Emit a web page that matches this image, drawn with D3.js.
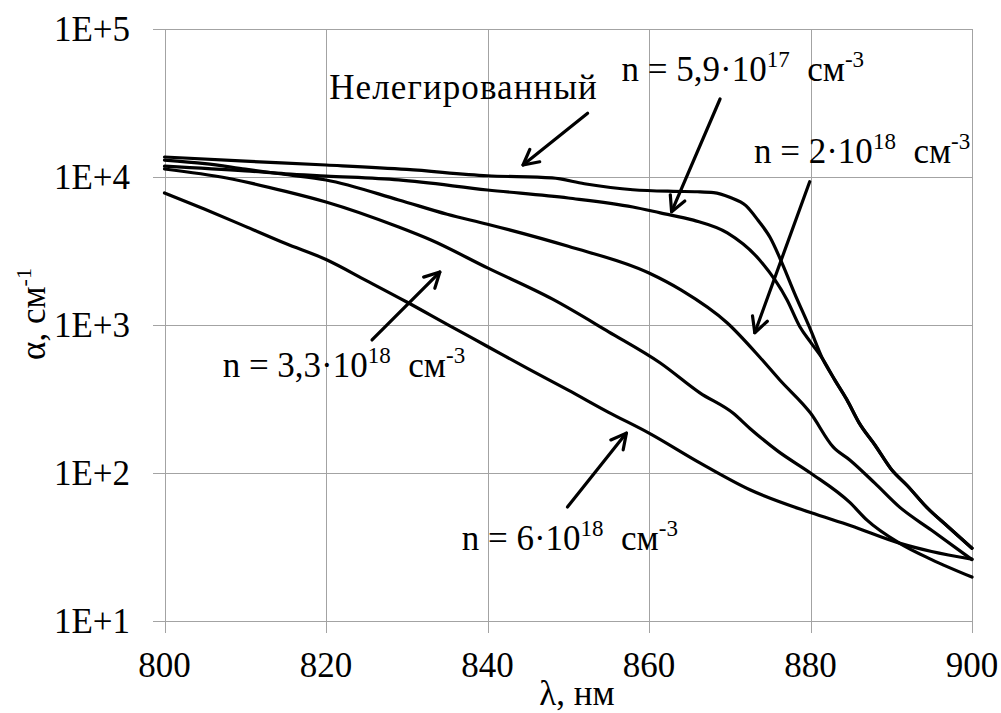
<!DOCTYPE html>
<html>
<head>
<meta charset="utf-8">
<script src="https://cdn.jsdelivr.net/npm/d3@7"></script>
<style>
  html, body { margin: 0; padding: 0; background: #fff; }
  svg { display: block; }
</style>
</head>
<body>
<svg id="chart" width="1001" height="713"></svg>
<script>
// Absorption spectra of GaAs samples: wavelength (nm) vs absorption coefficient (cm^-1)
const lambdaUndoped = [800, 810, 820, 830, 840, 848, 852, 858, 863, 866, 868, 870, 872, 873.5, 875, 876.5, 878, 880, 881.5, 883, 884.5, 886, 888, 890, 892, 894.4, 897, 900];
const alphaUndoped  = [13650, 12800, 12050, 11250, 10200, 9850, 9000, 8200, 8000, 7950, 7850, 7300, 6400, 5100, 3900, 2600, 1650, 930, 590, 426, 313, 219, 154, 106, 82, 58.5, 43.5, 31];

const lambdaN59e17 = [800, 810, 815, 820, 829, 840, 850, 858, 861.4, 865.5, 869.7, 873.7, 877.1, 878.7, 880, 881.5, 883, 884.5, 886, 888, 890, 892, 894.4, 897, 900];
const alphaN59e17  = [11850, 11000, 10500, 10150, 9550, 8170, 7210, 6270, 5720, 5110, 4190, 2750, 1476, 969, 766, 590, 426, 313, 219, 154, 106, 82, 58.5, 43.5, 31];

const lambdaN2e18 = [800, 805, 810, 815, 820, 829, 835, 840, 850, 860, 864, 869.7, 873.7, 876.2, 880, 882.8, 884.9, 888, 891, 895, 900];
const alphaN2e18  = [13000, 12300, 11300, 10400, 9550, 7000, 5600, 4800, 3400, 2245, 1720, 1032, 608, 425, 254, 150, 122, 85, 59, 41, 26];

const lambdaN33e18 = [800, 807.7, 815, 820, 829, 833, 840, 848, 855, 861.4, 866.3, 870.4, 872.5, 876, 880, 884.9, 887, 891, 895, 900];
const alphaN33e18  = [11330, 9840, 8000, 6780, 4590, 3750, 2430, 1500, 900, 554, 348, 254, 200, 140, 100, 63, 48, 33.6, 26, 19.8];

const lambdaN6e18 = [800, 805, 810, 815, 820, 825, 830, 835, 840, 845, 850, 855, 860, 866.3, 872.5, 880, 885, 891, 895, 900];
const alphaN6e18  = [7800, 6050, 4640, 3550, 2770, 1995, 1430, 1010, 716, 507, 363, 257, 186, 117, 77, 54, 44, 33.6, 29.5, 26.2];

const xTicks = [800, 820, 840, 860, 880, 900];
const yTicks = [1e1, 1e2, 1e3, 1e4, 1e5];
const yTickLabels = ["1E+1", "1E+2", "1E+3", "1E+4", "1E+5"];

// Curve labels: text pieces (false = normal, true = superscript), anchor and arrow in data units
const labelTexts = [
  [["Нелегированный", false]],
  [["n = 5,9·10", false], ["17", true], ["  см", false], ["-3", true]],
  [["n = 2·10", false], ["18", true], ["  см", false], ["-3", true]],
  [["n = 3,3·10", false], ["18", true], ["  см", false], ["-3", true]],
  [["n = 6·10", false], ["18", true], ["  см", false], ["-3", true]]
];
const labelAnchors = [[820.4, 33650], [856.6, 44560], [873.0, 12500], [807.2, 448], [836.8, 30.2]];
const arrowFrom = [[852.4, 27000], [868.8, 33650], [879.9, 9290], [825.7, 792], [849.9, 58.9]];
const arrowTo   = [[844.4, 12050], [862.8, 5830], [873.1, 887], [834.1, 2280], [857.2, 186]];

const series = [
  [lambdaUndoped, alphaUndoped],
  [lambdaN59e17, alphaN59e17],
  [lambdaN2e18, alphaN2e18],
  [lambdaN33e18, alphaN33e18],
  [lambdaN6e18, alphaN6e18]
];

const FONT = "'Liberation Serif', 'DejaVu Serif', 'Times New Roman', serif";

const svg = d3.select("#chart")
  .attr("font-family", FONT);
svg.append("rect").attr("width", 1001).attr("height", 713).attr("fill", "#fff");

const plotLeft = 164.5, plotRight = 972, plotTop = 29, plotBottom = 621, tickLen = 12;
const x = d3.scaleLinear().domain([800, 900]).range([plotLeft, plotRight]);
const y = d3.scaleLog().domain([1e1, 1e5]).range([plotBottom, plotTop]);

const gridColor = "#a3a3a3";
const grid = svg.append("g").attr("stroke", gridColor).attr("stroke-width", 1.4).attr("shape-rendering", "crispEdges");

grid.selectAll("line.h").data(yTicks).join("line").attr("class", "h")
  .attr("x1", plotLeft - tickLen).attr("x2", plotRight)
  .attr("y1", d => Math.round(y(d)) + 0.5).attr("y2", d => Math.round(y(d)) + 0.5);
grid.selectAll("line.v").data(xTicks).join("line").attr("class", "v")
  .attr("x1", d => Math.round(x(d)) + 0.5).attr("x2", d => Math.round(x(d)) + 0.5)
  .attr("y1", plotTop).attr("y2", plotBottom + tickLen);

const txt = sel => sel.attr("font-family", FONT).attr("fill", "#000").style("white-space", "pre");

// Tick labels
svg.append("g").selectAll("text").data(yTicks).join("text").call(txt)
  .attr("x", 130).attr("y", d => y(d) + 12)
  .attr("text-anchor", "end").attr("font-size", 35)
  .text((d, i) => yTickLabels[i]);

svg.append("g").selectAll("text").data(xTicks).join("text").call(txt)
  .attr("x", d => x(d)).attr("y", 677)
  .attr("text-anchor", "middle").attr("font-size", 35)
  .text(d => d);

// Axis titles
const yTitle = svg.append("text").call(txt)
  .attr("transform", "translate(45,314) rotate(-90)")
  .attr("text-anchor", "middle").attr("font-size", 35);
yTitle.append("tspan").text("α, см");
yTitle.append("tspan").attr("font-size", 22).attr("dy", -14).text("-1");

svg.append("text").call(txt).attr("x", 577).attr("y", 705)
  .attr("text-anchor", "middle").attr("font-size", 35).text("λ, нм");

// Spectra
const line = d3.line()
  .x(d => x(d[0]))
  .y(d => y(d[1]))
  .curve(d3.curveMonotoneX);

svg.append("g").selectAll("path").data(series).join("path")
  .attr("d", s => line(s[0].map((l, i) => [l, s[1][i]])))
  .attr("fill", "none").attr("stroke", "#000").attr("stroke-width", 3.2)
  .attr("stroke-linejoin", "round").attr("stroke-linecap", "round");

// Arrows
const arrows = svg.append("g").attr("stroke", "#000").attr("stroke-width", 3.2)
  .attr("fill", "none").attr("stroke-linecap", "round").attr("stroke-linejoin", "round");
arrowFrom.forEach((f, i) => {
  const x0 = x(f[0]), y0 = y(f[1]);
  const x1 = x(arrowTo[i][0]), y1 = y(arrowTo[i][1]);
  const ang = Math.atan2(y1 - y0, x1 - x0);
  const head = 17, spread = Math.PI / 6.5;
  arrows.append("line").attr("x1", x0).attr("y1", y0).attr("x2", x1).attr("y2", y1);
  const p = d3.path();
  p.moveTo(x1 - head * Math.cos(ang - spread), y1 - head * Math.sin(ang - spread));
  p.lineTo(x1, y1);
  p.lineTo(x1 - head * Math.cos(ang + spread), y1 - head * Math.sin(ang + spread));
  arrows.append("path").attr("d", p.toString());
});

// Curve labels
labelTexts.forEach((parts, i) => {
  const t = svg.append("text").call(txt)
    .attr("x", x(labelAnchors[i][0])).attr("y", y(labelAnchors[i][1]))
    .attr("font-size", 35)
    .attr("letter-spacing", parts.length === 1 ? 1.1 : 0);
  let raised = false;
  parts.forEach(([str, sup]) => {
    const ts = t.append("tspan").text(str);
    if (sup && !raised) { ts.attr("font-size", 23).attr("dy", -14); raised = true; }
    else if (!sup && raised) { ts.attr("dy", 14); raised = false; }
  });
});
</script>
</body>
</html>
